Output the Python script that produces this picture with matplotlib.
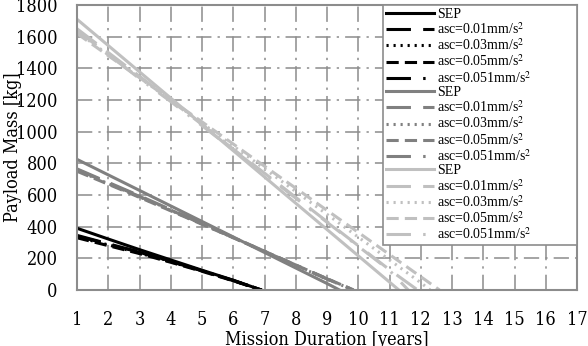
import matplotlib
matplotlib.use("Agg")
import matplotlib.pyplot as plt
from matplotlib.font_manager import FontProperties

plt.rcParams["mathtext.fontset"] = "stix"

# mission duration [years] and payload mass [kg]
# group 1 (black)
x_black = [1, 2, 3, 4, 5, 6, 6.9]
black_sep = [390, 322, 255, 190, 125, 62, 0]
black_a01 = [345, 292, 240, 182, 122, 60, 0]
black_a03 = [335, 285, 233, 178, 120, 60, 0]
black_a05 = [330, 280, 230, 175, 118, 58, 0]
black_a051 = [340, 290, 238, 180, 121, 60, 0]

# group 2 (mid gray)
x_mid_sep = [1, 2, 3, 4, 5, 6, 7, 8, 9, 9.4]
mid_sep = [825, 727, 629, 531, 433, 335, 237, 139, 41, 0]
x_mid = [1, 2, 3, 4, 5, 6, 7, 8, 9, 9.85]
mid_a01 = [765, 680, 595, 508, 420, 333, 245, 158, 70, 0]
mid_a03 = [755, 672, 588, 503, 417, 330, 243, 156, 68, 0]
mid_a05 = [750, 668, 585, 500, 415, 330, 244, 158, 72, 0]
mid_a051 = [760, 676, 591, 505, 418, 331, 244, 157, 70, 0]

# group 3 (light gray)
x_light_sep = [1, 2, 3, 4, 5, 6, 7, 8, 9, 10, 11, 11.3]
light_sep = [1710, 1544, 1378, 1212, 1046, 880, 714, 548, 382, 216, 50, 0]
x_light_a01 = [1, 2, 3, 4, 5, 6, 7, 8, 9, 10, 11, 11.9]
light_a01 = [1650, 1500, 1350, 1198, 1045, 890, 738, 585, 432, 280, 128, 0]
x_light_a03 = [1, 2, 3, 4, 5, 6, 7, 8, 9, 10, 11, 12, 12.3]
light_a03 = [1630, 1486, 1342, 1198, 1054, 910, 766, 622, 478, 334, 190, 46, 0]
x_light_a05 = [1, 2, 3, 4, 5, 6, 7, 8, 9, 10, 11, 12, 12.6]
light_a05 = [1620, 1480, 1341, 1201, 1062, 922, 782, 643, 503, 364, 224, 84, 0]
x_light_a051 = [1, 2, 3, 4, 5, 6, 7, 8, 9, 10, 11, 11.6]
light_a051 = [1640, 1487, 1335, 1190, 1038, 885, 733, 580, 428, 276, 124, 0]

labels = ["SEP", "asc=0.01mm/s$^2$", "asc=0.03mm/s$^2$",
          "asc=0.05mm/s$^2$", "asc=0.051mm/s$^2$"]
styles = ["-", (0, (8, 4)), (0, (0.7, 1.6)), (0, (4, 2)), (0, (8, 4, 0.8, 4))]

groups = [
    ("#000000", [(x_black, black_sep), (x_black, black_a01), (x_black, black_a03),
                 (x_black, black_a05), (x_black, black_a051)]),
    ("#808080", [(x_mid_sep, mid_sep), (x_mid, mid_a01), (x_mid, mid_a03),
                 (x_mid, mid_a05), (x_mid, mid_a051)]),
    ("#c0c0c0", [(x_light_sep, light_sep), (x_light_a01, light_a01),
                 (x_light_a03, light_a03), (x_light_a05, light_a05),
                 (x_light_a051, light_a051)]),
]

fig = plt.figure(figsize=(5.88, 3.46), dpi=100)
ax = fig.add_axes([77 / 588, 1 - 290 / 346, 500 / 588, 285 / 346])

for color, series in groups:
    for (xs, ys), lab, ls in zip(series, labels, styles):
        ax.plot(xs, ys, color=color, linestyle=ls, linewidth=2.2, label=lab)

ax.set_xlim(1, 17)
ax.set_ylim(0, 1800)
ax.set_xticks(range(1, 18))
ax.set_yticks(range(0, 1801, 200))

ax.grid(True, color="#8c8c8c", linestyle=(0, (10, 4, 1.5, 4)), linewidth=1.1)
ax.set_axisbelow(True)
for sp in ax.spines.values():
    sp.set_color("#8c8c8c")
    sp.set_linewidth(1.5)

tick_font = dict(family="DejaVu Serif", size=13, stretch="condensed")
ax.tick_params(length=0)
ax.tick_params(axis="x", pad=15)
ax.tick_params(axis="y", pad=14)
for t in ax.get_xticklabels() + ax.get_yticklabels():
    t.set_fontproperties(FontProperties(**tick_font))

ax.set_xlabel("Mission Duration [years]", fontproperties=FontProperties(**tick_font))
ax.set_ylabel("Payload Mass [kg]", fontproperties=FontProperties(**tick_font))
ax.xaxis.set_label_coords(0.5, -0.145)
ax.yaxis.set_label_coords(-0.11, 0.5)

leg = ax.legend(loc="upper left", bbox_to_anchor=(0.612, 0.0, 0.388, 1.0),
                mode="expand", borderaxespad=0,
                prop={"family": "Liberation Serif", "size": 10},
                handlelength=3.5, handletextpad=0.2, labelspacing=0.03,
                borderpad=0.2, fancybox=False, framealpha=1)
leg.get_frame().set_edgecolor("#8c8c8c")
leg.get_frame().set_linewidth(1.2)

fig.savefig("out.png", dpi=100)
